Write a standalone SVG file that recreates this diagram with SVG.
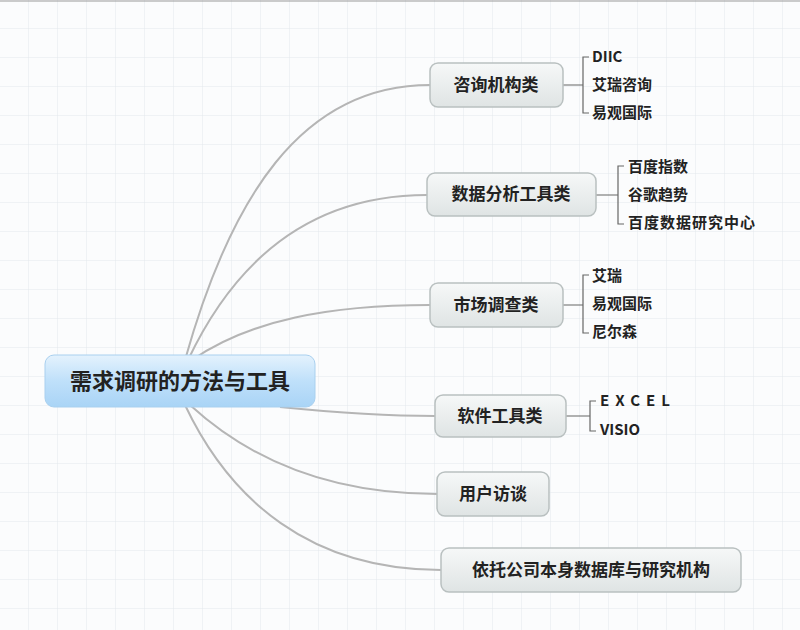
<svg xmlns="http://www.w3.org/2000/svg" width="800" height="630" viewBox="0 0 800 630">
<defs>
<pattern id="grid" width="29" height="29" patternUnits="userSpaceOnUse"><path d="M29 0V29H0" fill="none" stroke="#e3e8ec" stroke-width="1"/></pattern>
<linearGradient id="rootg" x1="0" y1="0" x2="0" y2="1"><stop offset="0" stop-color="#e4f2fd"/><stop offset="0.5" stop-color="#bfe0fa"/><stop offset="1" stop-color="#a9d4f6"/></linearGradient>
<linearGradient id="ng" x1="0" y1="0" x2="0" y2="1"><stop offset="0" stop-color="#f6f8f8"/><stop offset="1" stop-color="#dfe4e4"/></linearGradient>
</defs>
<style>
.n{fill:url(#ng);stroke:#b9c0c0;stroke-width:1.5}
.t{font-family:"Noto Sans CJK SC","Liberation Serif",serif;font-weight:bold;fill:#222;font-size:17px}
.l{font-family:"Noto Sans CJK SC","Liberation Serif",serif;font-weight:bold;fill:#222;font-size:15px}
.c{fill:none;stroke:#b5b5b5;stroke-width:2}
.b{fill:none;stroke:#666;stroke-width:1.2}
</style>
<rect width="800" height="630" fill="#fbfcfd"/>
<rect width="800" height="630" fill="url(#grid)"/>
<line x1="0" y1="1" x2="800" y2="1" stroke="#999"/>
<g id="connectors">
<path class="c" d="M185 360 C230 200 300 85 430 85"/>
<path class="c" d="M188 360 C240 250 320 195 427 195"/>
<path class="c" d="M192 360 C250 320 330 305 430 305"/>
<path class="c" d="M280 407 C330 412 380 416 435 416"/>
<path class="c" d="M190 405 C250 460 330 494 437 494"/>
<path class="c" d="M185 405 C230 500 310 570 441 570"/>
<path class="b" d="M563 85H583M589 57H583V113H589"/>
<path class="b" d="M596 195H618M624 166H618V224H624"/>
<path class="b" d="M563 305H583M589 275H583V333H589"/>
<path class="b" d="M566 416H590M596 401H590V431H596"/>
</g>
<g id="root"><rect x="45" y="355" width="270" height="52" rx="9" fill="url(#rootg)" stroke="#a9d0ef"/><text class="t" x="180" y="389" text-anchor="middle" style="font-size:22px">需求调研的方法与工具</text></g>
<g id="n1"><rect class="n" x="430" y="63" width="133" height="44" rx="8"/><text class="t" x="496" y="91" text-anchor="middle">咨询机构类</text></g>
<g id="n2"><rect class="n" x="427" y="173" width="169" height="43" rx="8"/><text class="t" x="511" y="200" text-anchor="middle">数据分析工具类</text></g>
<g id="n3"><rect class="n" x="430" y="283" width="133" height="44" rx="8"/><text class="t" x="496" y="311" text-anchor="middle">市场调查类</text></g>
<g id="n4"><rect class="n" x="435" y="395" width="131" height="42" rx="8"/><text class="t" x="500" y="422" text-anchor="middle">软件工具类</text></g>
<g id="n5"><rect class="n" x="437" y="472" width="112" height="44" rx="8"/><text class="t" x="493" y="500" text-anchor="middle">用户访谈</text></g>
<g id="n6"><rect class="n" x="441" y="548" width="300" height="44" rx="8"/><text class="t" x="591" y="576" text-anchor="middle">依托公司本身数据库与研究机构</text></g>
<g id="leaves">
<text class="l" x="592" y="62">DIIC</text><text class="l" x="592" y="90">艾瑞咨询</text><text class="l" x="592" y="118">易观国际</text>
<text class="l" x="628" y="172">百度指数</text><text class="l" x="628" y="200">谷歌趋势</text><text class="l" x="628" y="228" letter-spacing="1">百度数据研究中心</text>
<text class="l" x="592" y="281">艾瑞</text><text class="l" x="592" y="309">易观国际</text><text class="l" x="592" y="337">尼尔森</text>
<text class="l" x="600" y="406" letter-spacing="6">EXCEL</text><text class="l" x="600" y="435">VISIO</text>
</g>
</svg>
